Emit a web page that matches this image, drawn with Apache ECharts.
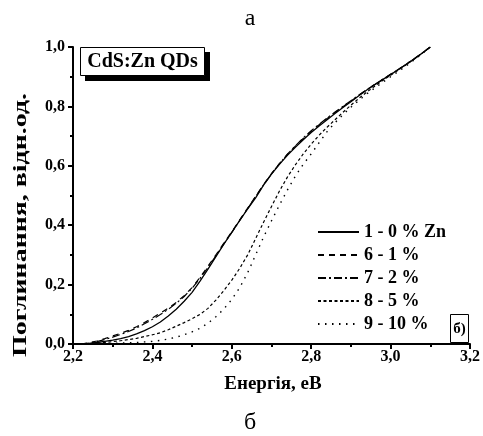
<!DOCTYPE html>
<html>
<head>
<meta charset="utf-8">
<script src="https://cdn.jsdelivr.net/npm/echarts@6/dist/echarts.min.js"></script>
<style>html,body{margin:0;padding:0;background:#fff}#c{width:483px;height:436px}</style>
</head>
<body>
<div id="c"></div>
<script>
const energy = [2.22,2.24,2.26,2.28,2.30,2.32,2.34,2.36,2.38,2.40,2.42,2.44,2.46,2.48,2.50,2.52,2.54,2.56,2.58,2.60,2.62,2.64,2.66,2.68,2.70,2.72,2.74,2.76,2.78,2.80,2.82,2.84,2.86,2.88,2.90,2.92,2.94,2.96,2.98,3.00,3.02,3.04,3.06,3.08,3.10];
const zn0  = [0,0.002,0.005,0.009,0.013,0.018,0.025,0.034,0.045,0.058,0.074,0.094,0.117,0.144,0.174,0.212,0.252,0.294,0.336,0.376,0.416,0.455,0.492,0.535,0.572,0.605,0.635,0.662,0.688,0.712,0.734,0.755,0.776,0.796,0.816,0.836,0.855,0.873,0.890,0.907,0.924,0.942,0.960,0.980,1.0];
const zn1  = [0,0.004,0.010,0.018,0.027,0.036,0.046,0.058,0.072,0.088,0.104,0.121,0.140,0.163,0.190,0.224,0.262,0.300,0.340,0.378,0.418,0.458,0.497,0.537,0.574,0.607,0.638,0.666,0.692,0.716,0.738,0.759,0.779,0.799,0.818,0.837,0.856,0.874,0.891,0.908,0.925,0.943,0.961,0.980,1.0];
const zn2  = [0,0.003,0.008,0.015,0.023,0.032,0.042,0.054,0.068,0.083,0.099,0.117,0.137,0.160,0.188,0.221,0.258,0.297,0.337,0.376,0.416,0.456,0.496,0.536,0.573,0.607,0.639,0.667,0.694,0.718,0.740,0.761,0.781,0.800,0.819,0.838,0.856,0.874,0.891,0.908,0.925,0.943,0.961,0.980,1.0];
const zn5  = [0,0.001,0.003,0.005,0.008,0.011,0.015,0.019,0.025,0.031,0.038,0.048,0.060,0.072,0.085,0.100,0.120,0.148,0.180,0.215,0.255,0.300,0.355,0.410,0.463,0.515,0.562,0.603,0.640,0.673,0.703,0.730,0.755,0.780,0.804,0.827,0.848,0.868,0.887,0.905,0.923,0.941,0.960,0.980,1.0];
const zn10 = [0,0,0.001,0.001,0.002,0.003,0.004,0.005,0.007,0.009,0.012,0.017,0.023,0.031,0.041,0.053,0.070,0.092,0.118,0.150,0.190,0.240,0.300,0.360,0.415,0.468,0.518,0.565,0.605,0.640,0.678,0.715,0.745,0.772,0.797,0.820,0.842,0.862,0.881,0.900,0.918,0.937,0.957,0.978,1.0];
const seriesNames = ['1 - 0 % Zn','6 - 1 %','7 - 2 %','8 - 5 %','9 - 10 %'];
const xTicks = [2.2,2.4,2.6,2.8,3.0,3.2];
const yTicks = [0,0.2,0.4,0.6,0.8,1.0];

const FONT = '"Liberation Serif","Times New Roman",serif';
const dashes = ['solid',[6,5],[8,3,2,3],[3,2.5],[1.5,5.5]];
const widths = [1.3,1.2,1.2,1.2,1.4];
const vals = [zn0,zn1,zn2,zn5,zn10];
const fmt = v => v.toFixed(1).replace('.', ',');

// stretch the y-axis title to the reference length
const yTitle = 'Поглинання, відн.од.';
const mc = document.createElement('canvas').getContext('2d');
mc.font = 'bold 19px ' + FONT;
const yTitleScale = 264 / mc.measureText(yTitle).width;

const chart = echarts.init(document.getElementById('c'), null, {renderer:'canvas'});
chart.setOption({
  animation:false,
  backgroundColor:'#fff',
  grid:{left:73, right:10, top:47, bottom:92},
  xAxis:{
    type:'value', min:xTicks[0], max:xTicks[xTicks.length-1], interval:0.2,
    axisLine:{show:true,onZero:false,lineStyle:{color:'#000',width:2}},
    axisTick:{show:true,inside:false,length:5,lineStyle:{color:'#000',width:2}},
    minorTick:{show:true,splitNumber:2,length:3,lineStyle:{color:'#000',width:2}},
    splitLine:{show:false},
    axisLabel:{formatter:fmt,fontFamily:FONT,fontWeight:'bold',fontSize:16,color:'#000',margin:5}
  },
  yAxis:{
    type:'value', min:yTicks[0], max:yTicks[yTicks.length-1], interval:0.2,
    axisLine:{show:true,lineStyle:{color:'#000',width:2}},
    axisTick:{show:true,inside:false,length:5,lineStyle:{color:'#000',width:2}},
    minorTick:{show:true,splitNumber:2,length:3,lineStyle:{color:'#000',width:2}},
    splitLine:{show:false},
    axisLabel:{formatter:fmt,fontFamily:FONT,fontWeight:'bold',fontSize:16,color:'#000',margin:8}
  },
  legend:{
    orient:'vertical', left:317, top:223, padding:0, itemWidth:41, itemHeight:14, itemGap:5, itemTextGap:5,
    data:seriesNames,
    itemStyle:{color:'rgba(0,0,0,0)',borderWidth:0,opacity:0},
    textStyle:{fontFamily:FONT,fontWeight:'bold',fontSize:18,color:'#000'}
  },
  series: seriesNames.map((n,i)=>({
    name:n, type:'line', showSymbol:false, symbol:'none', smooth:false,
    data: energy.map((e,k)=>[e, vals[i][k]]),
    lineStyle:{color:'#000', width:widths[i], type:dashes[i]},
    itemStyle:{color:'#000'}
  })),
  graphic:[
    {type:'text', x:250, y:19, style:{text:'а',fontFamily:FONT,fontSize:24,fill:'#000',textAlign:'center',textVerticalAlign:'middle'}},
    {type:'text', x:250, y:423, style:{text:'б',fontFamily:FONT,fontSize:24,fill:'#000',textAlign:'center',textVerticalAlign:'middle'}},
    {type:'rect', shape:{x:85,y:52,width:125,height:29}, style:{fill:'#000'}},
    {type:'rect', shape:{x:80.5,y:47.5,width:124,height:28}, style:{fill:'#fff',stroke:'#000',lineWidth:1}},
    {type:'text', x:142.5, y:62, style:{text:'CdS:Zn QDs',fontFamily:FONT,fontWeight:'bold',fontSize:20,fill:'#000',textAlign:'center',textVerticalAlign:'middle'}},
    {type:'rect', shape:{x:450.5,y:314.5,width:18,height:28}, style:{fill:'#fff',stroke:'#000',lineWidth:1}},
    {type:'text', x:459.5, y:329, style:{text:'б)',fontFamily:FONT,fontWeight:'bold',fontSize:15,fill:'#000',textAlign:'center',textVerticalAlign:'middle'}},
    {type:'text', x:273, y:384, style:{text:'Енергія, еВ',fontFamily:FONT,fontWeight:'bold',fontSize:19,fill:'#000',textAlign:'center',textVerticalAlign:'middle'}},
    {type:'text', x:21, y:225, rotation:Math.PI/2, scaleX:yTitleScale, style:{text:yTitle,fontFamily:FONT,fontWeight:'bold',fontSize:19,fill:'#000',textAlign:'center',textVerticalAlign:'middle'}}
  ]
});
</script>
</body>
</html>
